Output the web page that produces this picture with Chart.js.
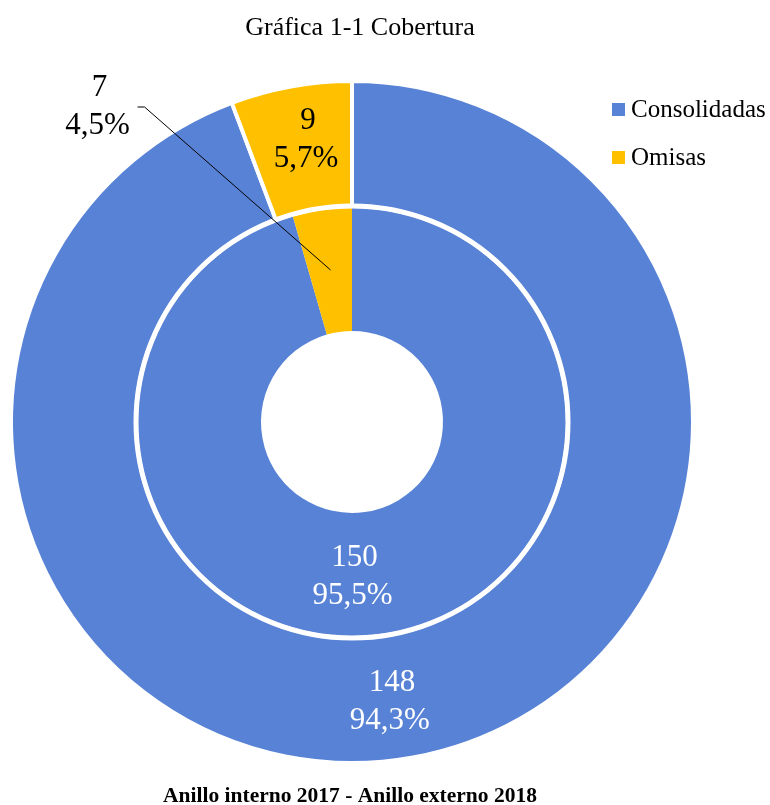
<!DOCTYPE html>
<html lang="es">
<head>
    <meta charset="UTF-8">
    <title>Gráfica 1-1 Cobertura</title>
    <script src="https://cdn.jsdelivr.net/npm/chart.js"></script>
    <style>
        html, body { margin: 0; padding: 0; background: #fff; }
        #wrap { position: relative; width: 770px; height: 805px; }
    </style>
</head>
<body>
    <div id="wrap"><canvas id="coberturaChart" width="770" height="805"></canvas></div>

    <script>
        // Data
        const categories = ['Consolidadas', 'Omisas'];
        const ringLabels = ['2018', '2017'];      // outer ring first, as Chart.js draws it
        const values2018 = [148, 9];
        const values2017 = [150, 7];
        const colors = ['#5782D6', '#FFC000'];

        const titleText = 'Gráfica 1-1 Cobertura';
        const footText = 'Anillo interno 2017 - Anillo externo 2018';

        // label nudges from each arc's centre point: [dataset][index] = [dx, dy]
        const labelShift = [
            [[-12, 6], [4, -8]],
            [[-21, 3], [-233, -163]]
        ];
        const textColor = ['#ffffff', '#000000'];

        const serif = '"Liberation Serif", "Times New Roman", serif';

        function pct(v, total) {
            return (v / total * 100).toFixed(1).replace('.', ',') + '%';
        }

        const decorPlugin = {
            id: 'decor',
            afterDatasetsDraw(chart) {
                const ctx = chart.ctx;
                const outer = chart.getDatasetMeta(0);
                const c = outer.data[0];

                // white gap between the two rings
                ctx.save();
                ctx.strokeStyle = '#ffffff';
                ctx.lineWidth = 5;
                ctx.beginPath();
                ctx.arc(c.x, c.y, outer.controller.innerRadius, 0, Math.PI * 2);
                ctx.stroke();
                ctx.restore();
            },
            afterDraw(chart) {
                const ctx = chart.ctx;
                ctx.save();

                // title
                ctx.fillStyle = '#000';
                ctx.textAlign = 'center';
                ctx.textBaseline = 'alphabetic';
                ctx.font = '26px ' + serif;
                ctx.fillText(titleText, 360, 35);

                // footer
                ctx.font = 'bold 21.5px ' + serif;
                ctx.fillText(footText, 350, 802);

                // legend
                ctx.textAlign = 'left';
                ctx.font = '25px ' + serif;
                chart.data.labels.forEach((lab, i) => {
                    const y = 103 + i * 48;
                    ctx.fillStyle = colors[i];
                    ctx.fillRect(612, y, 13, 13);
                    ctx.fillStyle = '#000';
                    ctx.fillText(lab, 631, y + 14);
                });

                // data labels
                ctx.textAlign = 'center';
                ctx.textBaseline = 'middle';
                ctx.font = '31px ' + serif;
                chart.data.datasets.forEach((ds, d) => {
                    const meta = chart.getDatasetMeta(d);
                    const total = ds.data.reduce((a, b) => a + b, 0);
                    meta.data.forEach((arc, i) => {
                        const p = arc.getCenterPoint();
                        const sh = labelShift[d][i];
                        const x = p.x + sh[0];
                        const y = p.y + sh[1];
                        // leader line when the label sits away from its slice
                        if (Math.abs(sh[0]) > 60) {
                            ctx.strokeStyle = '#000';
                            ctx.lineWidth = 1;
                            ctx.beginPath();
                            ctx.moveTo(x + 40, y);
                            ctx.lineTo(x + 47, y);
                            ctx.lineTo(p.x, p.y);
                            ctx.stroke();
                        }
                        ctx.fillStyle = textColor[i];
                        ctx.fillText(String(ds.data[i]), x + 2, y - 19);
                        ctx.fillText(pct(ds.data[i], total), x, y + 19);
                    });
                });
                ctx.restore();
            }
        };

        new Chart(document.getElementById('coberturaChart'), {
            type: 'doughnut',
            data: {
                labels: categories,
                datasets: [{
                    label: ringLabels[0],
                    data: values2018,
                    backgroundColor: colors,
                    borderColor: '#ffffff',
                    borderWidth: 4,
                    hoverBorderWidth: 4
                }, {
                    label: ringLabels[1],
                    data: values2017,
                    backgroundColor: colors,
                    borderWidth: 0,
                    hoverBorderWidth: 0
                }]
            },
            options: {
                responsive: false,
                animation: false,
                events: [],
                cutout: 91,
                layout: { padding: { left: 9, right: 75, top: 79, bottom: 40 } },
                plugins: {
                    legend: { display: false },
                    title: { display: false },
                    tooltip: { enabled: false }
                }
            },
            plugins: [decorPlugin]
        });
    </script>
</body>
</html>
